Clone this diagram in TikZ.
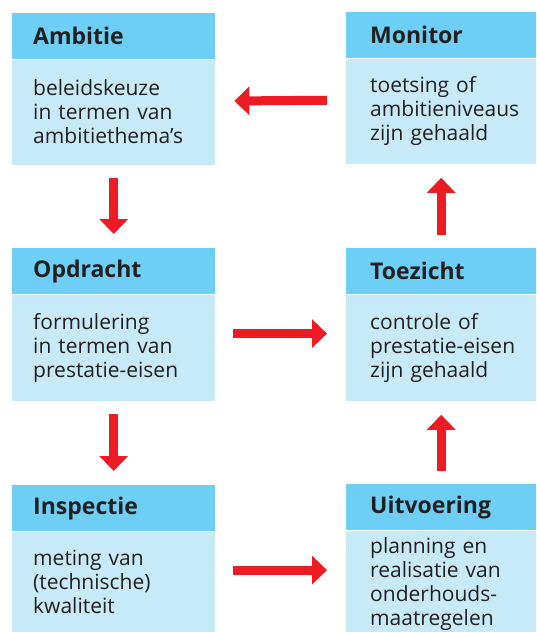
\documentclass[tikz,border=0pt]{standalone}
\usepackage{fontspec}
\setmainfont{Open Sans}
\usetikzlibrary{positioning,arrows.meta}
\definecolor{headblue}{HTML}{6DCFF6}
\definecolor{bodyblue}{HTML}{C7EAF9}
\definecolor{flowred}{HTML}{ED1C24}
\definecolor{inkgray}{HTML}{231F20}
\hyphenpenalty=10000
\exhyphenpenalty=10000
\begin{document}
\begin{tikzpicture}[x=1pt,y=-1pt,
        head/.style={fill=headblue, text=inkgray, anchor=north west,
            minimum height=46pt, inner xsep=21pt, text width=#1,
            align=left, font=\fontsize{23}{26}\selectfont\bfseries},
        body/.style={fill=bodyblue, text=inkgray, inner xsep=21pt,
            text width=#1, align=left, font=\fontsize{21}{24}\selectfont},
        right col/.style={inner xsep=24pt},
        flow/.style={draw=flowred, line width=9pt,
            -{Triangle[width=28pt,length=15pt]},
            shorten <=13pt, shorten >=14pt}]
        \useasboundingbox (0,0) rectangle (536,632);
        % left column: Ambitie, Opdracht, Inspectie
        \node[head=161pt] (ambHead) at (12,13) {Ambitie};
        \node[body=161pt, minimum height=105pt, below=0pt of ambHead] (ambBody)
            {beleidskeuze\\in termen van\\ambitiethema’s};
        \node[head=161pt] (opdHead) at (12,248) {Opdracht};
        \node[body=161pt, minimum height=106pt, below=0pt of opdHead] (opdBody)
            {formulering\\in termen van\\prestatie-eisen};
        \node[head=161pt] (inspHead) at (12,485) {Inspectie};
        \node[body=161pt, minimum height=101pt, below=0pt of inspHead] (inspBody)
            {meting van\\(technische)\\kwaliteit};
        % right column: Monitor, Toezicht, Uitvoering
        \node[head=142pt, right col] (monHead) at (346,12) {Monitor};
        \node[body=142pt, right col, minimum height=105pt, below=0pt of monHead] (monBody)
            {toetsing of\\ambitieniveaus\\zijn gehaald};
        \node[head=142pt, right col] (toeHead) at (346,248) {Toezicht};
        \node[body=142pt, right col, minimum height=106pt, below=0pt of toeHead] (toeBody)
            {controle of\\prestatie-eisen\\zijn gehaald};
        \node[head=142pt, right col] (uitHead) at (346,484) {Uitvoering};
        \node[body=142pt, right col, minimum height=102pt, text height=20pt,
            below=0pt of uitHead] (uitBody)
            {planning en\\realisatie van\\onderhouds-\\maatregelen};
        % the cycle
        \draw[flow] (ambBody) -- (opdHead);
        \draw[flow] (opdBody) -- (inspHead);
        \draw[flow, shorten <=18pt, shorten >=19pt] ([yshift=12pt]inspBody.east) -- ([yshift=12pt]inspBody.east -| uitBody.west);
        \draw[flow] (uitHead) -- (toeBody);
        \draw[flow] (toeHead) -- (monBody);
        \draw[flow, shorten <=19pt, shorten >=19pt] ([yshift=11pt]monBody.west) -- ([yshift=11pt]ambBody.east);
        \draw[flow, shorten <=18pt, shorten >=19pt] ([yshift=14pt]opdBody.east) -- ([yshift=14pt]toeBody.west);
    \end{tikzpicture}
\end{document}
